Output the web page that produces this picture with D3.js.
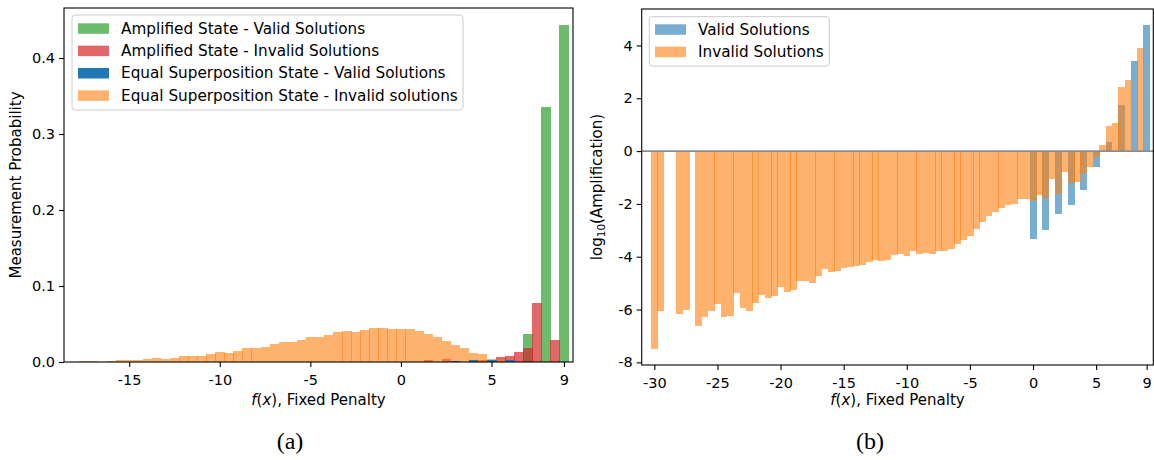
<!DOCTYPE html>
<html><head><meta charset="utf-8">
<script src="https://cdn.jsdelivr.net/npm/d3@7/dist/d3.min.js"></script>
<style>
body{margin:0;background:#fff;}
svg{display:block;font-family:"DejaVu Sans",sans-serif;}
</style>
</head><body>
<svg id="c" width="1154" height="460"></svg>
<script>
// ---------- Panel (a) data : measurement probability ----------
const ampValidX = [7, 8, 9];
const ampValidP = [0.037, 0.3355, 0.443];
const ampInvalidX = [1.5, 2.5, 4.5, 5.5, 6, 6.5, 7, 7.5, 8.5];
const ampInvalidP = [0.0025, 0.004, 0.003, 0.0065, 0.008, 0.0135, 0.0185, 0.078, 0.029];
const eqValidX = [3, 4, 5, 6];
const eqValidP = [0.0012, 0.003, 0.003, 0.0025];
const eqInvalidX = [-17.5,-17,-16,-15.5,-15,-14.5,-14,-13.5,-13,-12.5,-12,-11.5,-11,-10.5,-10,-9.5,-9,-8.5,-8,-7.5,-7,-6.5,-6,-5.5,-5,-4.5,-4,-3.5,-3,-2.5,-2,-1.5,-1,-0.5,0,0.5,1,1.5,2,2.5,3,3.5,4,4.5,5,5.5];
const eqInvalidP = [0.0009,0.0009,0.0009,0.0022,0.0022,0.0022,0.0036,0.0049,0.0036,0.0049,0.0075,0.0075,0.0075,0.0101,0.0128,0.0114,0.0141,0.018,0.018,0.0193,0.0233,0.0259,0.0259,0.0286,0.0325,0.0325,0.0351,0.0391,0.0404,0.0391,0.0417,0.0443,0.0443,0.043,0.043,0.043,0.0404,0.0364,0.0325,0.0272,0.022,0.018,0.012,0.0105,0.0036,0.003];
const leftLegend = ["Amplified State - Valid Solutions","Amplified State - Invalid Solutions","Equal Superposition State - Valid Solutions","Equal Superposition State - Invalid solutions"];
const leftXTicks = [-15,-10,-5,0,5,9];
const leftYTicks = [0,0.1,0.2,0.3,0.4];

// ---------- Panel (b) data : log10 amplification ----------
const validX = [0,1,2,3,4,5,6,7,8,9];
const validLog = [-3.32,-2.98,-2.37,-2.03,-1.47,-0.59,0.34,1.74,3.41,4.77];
const invalidX = [-30,-29.5,-28,-27.5,-26.5,-26,-25.5,-25,-24.5,-24,-23.5,-23,-22.5,-22,-21.5,-21,-20.5,-20,-19.5,-19,-18.5,-18,-17.5,-17,-16.5,-16,-15.5,-15,-14.5,-14,-13.5,-13,-12.5,-12,-11.5,-11,-10.5,-10,-9.5,-9,-8.5,-8,-7.5,-7,-6.5,-6,-5.5,-5,-4.5,-4,-3.5,-3,-2.5,-2,-1.5,-1,-0.5,0,0.5,1,1.5,2,2.5,3,3.5,4,4.5,5,5.5,6,6.5,7,7.5,8.5];
const invalidLog = [-7.49,-6.05,-6.17,-6.01,-6.62,-6.28,-6.05,-5.78,-6.28,-6.24,-5.37,-5.93,-6.05,-5.74,-5.44,-5.56,-5.48,-5.14,-5.33,-5.25,-4.91,-4.91,-4.99,-4.72,-4.46,-4.57,-4.53,-4.42,-4.38,-4.34,-4.31,-4.19,-4.12,-4.15,-4.12,-3.93,-3.89,-3.96,-3.78,-3.89,-3.85,-3.89,-3.78,-3.78,-3.70,-3.51,-3.36,-3.21,-2.94,-2.68,-2.45,-2.30,-2.15,-2.03,-2.00,-1.81,-1.81,-1.88,-1.65,-1.77,-1.05,-1.62,-0.78,-1.20,-1.16,-0.82,-0.59,-0.22,0.23,0.95,1.06,2.42,2.69,3.90];
const rightLegend = ["Valid Solutions","Invalid Solutions"];
const rightXTicks = [-30,-25,-20,-15,-10,-5,0,5,9];
const rightYTicks = [-8,-6,-4,-2,0,2,4];

const FS = 14.5;      // tick labels
const FSL = 15.25;    // legend
const FSA = 15;       // axis labels
const svg = d3.select("#c");
const fmtInt = d => String(d);

function drawBars(g, xs, ys, X, V, color, opacity, base) {
  const data = X.map((x,i)=>({x, v:V[i]}));
  g.selectAll(null).data(data).enter().append("rect")
    .attr("x", d => Math.round(xs(d.x-0.25)))
    .attr("width", d => Math.ceil(xs(d.x+0.25)) - Math.round(xs(d.x-0.25)))
    .attr("y", d => Math.min(ys(d.v), ys(base)))
    .attr("height", d => Math.abs(ys(d.v) - ys(base)))
    .attr("fill", color).attr("fill-opacity", opacity)
    .attr("shape-rendering","crispEdges");
}

function styleAxis(g) {
  g.select(".domain").remove();
  g.selectAll(".tick line").attr("stroke","#000").attr("stroke-width",1.1);
  g.selectAll(".tick text").attr("fill","#000").style("font-size",FS+"px").style("font-family","DejaVu Sans");
}

// ================= Panel (a) =================
const L = {x0:64, x1:573, y0:8, y1:362};
const xL = d3.scaleLinear().domain([-18.6, 9.5]).range([L.x0, L.x1]);
const yL = d3.scaleLinear().domain([0, 0.4658]).range([L.y1, L.y0]);
const gL = svg.append("g");
drawBars(gL, xL, yL, ampValidX, ampValidP, "#2ca02c", 0.7, 0);
drawBars(gL, xL, yL, ampInvalidX, ampInvalidP, "#d62728", 0.7, 0);
drawBars(gL, xL, yL, eqInvalidX, eqInvalidP, "#ff7f0e", 0.6, 0);
drawBars(gL, xL, yL, eqValidX, eqValidP, "#1f77b4", 1, 0);

const axLx = svg.append("g").attr("transform",`translate(0,${L.y1})`)
  .call(d3.axisBottom(xL).tickValues(leftXTicks).tickFormat(fmtInt).tickSize(5).tickPadding(4));
styleAxis(axLx);
axLx.selectAll(".tick text").attr("dy",null).attr("y",23);
const axLy = svg.append("g").attr("transform",`translate(${L.x0},0)`)
  .call(d3.axisLeft(yL).tickValues(leftYTicks).tickFormat(d3.format(".1f")).tickSize(5).tickPadding(4));
styleAxis(axLy);
svg.append("rect").attr("x",L.x0).attr("y",L.y0).attr("width",L.x1-L.x0).attr("height",L.y1-L.y0)
  .attr("fill","none").attr("stroke","#000").attr("stroke-width",1.1);

// legend (a)
const legColorsL = [["#2ca02c",0.7],["#d62728",0.7],["#1f77b4",1],["#ff7f0e",0.6]];
const lgL = svg.append("g");
lgL.append("rect").attr("x",72).attr("y",15).attr("width",391).attr("height",95).attr("rx",3)
  .attr("fill","#fff").attr("fill-opacity",0.8).attr("stroke","#cccccc").attr("stroke-width",1);
leftLegend.forEach((t,i)=>{
  const cy = 28.3 + i*22.35;
  lgL.append("rect").attr("x",78).attr("y",cy-5).attr("width",31).attr("height",10.5)
    .attr("fill",legColorsL[i][0]).attr("fill-opacity",legColorsL[i][1]);
  lgL.append("text").attr("x",121).attr("y",cy).attr("dy","0.36em").style("font-size",FSL+"px").text(t);
});

// labels (a)
const xlabL = svg.append("text").attr("x",(L.x0+L.x1)/2).attr("y",405).attr("text-anchor","middle").style("font-size",FSA+"px");
xlabL.append("tspan").attr("font-style","italic").text("f");
xlabL.append("tspan").text("(");
xlabL.append("tspan").attr("font-style","italic").text("x");
xlabL.append("tspan").text("), Fixed Penalty");
svg.append("text").attr("transform",`translate(21,${(L.y0+L.y1)/2}) rotate(-90)`).attr("text-anchor","middle")
  .style("font-size",FSA+"px").text("Measurement Probability");
svg.append("text").attr("x",290).attr("y",449).attr("text-anchor","middle")
  .style("font-family","Liberation Serif, serif").style("font-size","24px").text("(a)");

// ================= Panel (b) =================
const R = {x0:641.7, x1:1153.3, y0:9, y1:365};
const xR = d3.scaleLinear().domain([-31, 9.53]).range([R.x0, R.x1]);
const yR = d3.scaleLinear().domain([-8.1, 5.38]).range([R.y1, R.y0]);
const gR = svg.append("g");
drawBars(gR, xR, yR, validX, validLog, "#1f77b4", 0.6, 0);
drawBars(gR, xR, yR, invalidX, invalidLog, "#ff7f0e", 0.6, 0);
gR.append("line").attr("x1",R.x0).attr("x2",R.x1).attr("y1",yR(0)).attr("y2",yR(0))
  .attr("stroke","#8c8c8c").attr("stroke-width",1.6);

const axRx = svg.append("g").attr("transform",`translate(0,${R.y1})`)
  .call(d3.axisBottom(xR).tickValues(rightXTicks).tickFormat(fmtInt).tickSize(5).tickPadding(4));
styleAxis(axRx);
axRx.selectAll(".tick text").attr("dy",null).attr("y",23);
const axRy = svg.append("g").attr("transform",`translate(${R.x0},0)`)
  .call(d3.axisLeft(yR).tickValues(rightYTicks).tickFormat(fmtInt).tickSize(5).tickPadding(4));
styleAxis(axRy);
svg.append("rect").attr("x",R.x0).attr("y",R.y0).attr("width",R.x1-R.x0).attr("height",R.y1-R.y0)
  .attr("fill","none").attr("stroke","#000").attr("stroke-width",1.1);

// legend (b)
const legColorsR = [["#1f77b4",0.6],["#ff7f0e",0.6]];
const lgR = svg.append("g");
lgR.append("rect").attr("x",649.3).attr("y",16.7).attr("width",180).attr("height",49.3).attr("rx",3)
  .attr("fill","#fff").attr("fill-opacity",0.8).attr("stroke","#cccccc").attr("stroke-width",1);
rightLegend.forEach((t,i)=>{
  const cy = 29.3 + i*22.35;
  lgR.append("rect").attr("x",655).attr("y",cy-5).attr("width",31).attr("height",10.5)
    .attr("fill",legColorsR[i][0]).attr("fill-opacity",legColorsR[i][1]);
  lgR.append("text").attr("x",698).attr("y",cy).attr("dy","0.36em").style("font-size",FSL+"px").text(t);
});

// labels (b)
const xlabR = svg.append("text").attr("x",(R.x0+R.x1)/2).attr("y",405).attr("text-anchor","middle").style("font-size",FSA+"px");
xlabR.append("tspan").attr("font-style","italic").text("f");
xlabR.append("tspan").text("(");
xlabR.append("tspan").attr("font-style","italic").text("x");
xlabR.append("tspan").text("), Fixed Penalty");
const ylabR = svg.append("text").attr("transform",`translate(602,${(R.y0+R.y1)/2}) rotate(-90)`).attr("text-anchor","middle")
  .style("font-size",FSA+"px");
ylabR.append("tspan").text("log");
ylabR.append("tspan").attr("baseline-shift","-25%").style("font-size",(FSA*0.7)+"px").text("10");
ylabR.append("tspan").text("(Amplification)");
svg.append("text").attr("x",870).attr("y",449).attr("text-anchor","middle")
  .style("font-family","Liberation Serif, serif").style("font-size","24px").text("(b)");
</script>
</body></html>
